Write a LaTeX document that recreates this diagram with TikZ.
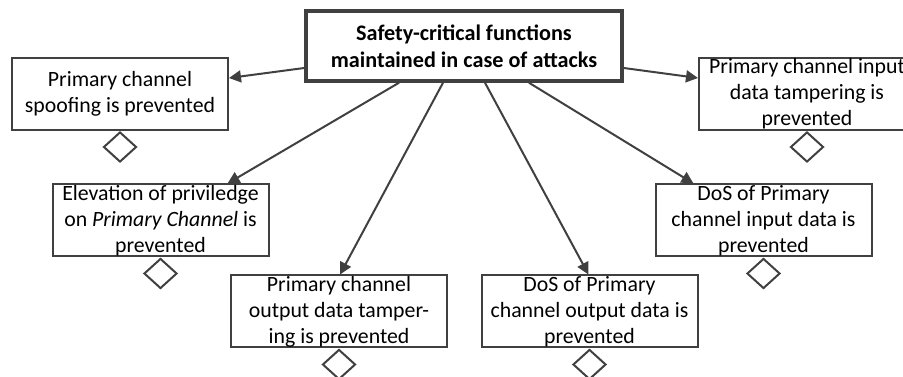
\documentclass[tikz,border=0pt]{standalone}
\usepackage{fontspec}
\setmainfont{Carlito}
\usepackage{xcolor}
\usepackage{tikz}
\usetikzlibrary{shapes.geometric, positioning, arrows.meta}

\definecolor{linegray}{HTML}{404040}

\begin{document}
\begin{tikzpicture}[x=1pt, y=1pt,
    goal/.style={draw=linegray, line width=2pt, minimum width=216pt, minimum height=72pt, inner sep=0pt},
    topgoal/.style={draw=linegray, line width=3.5pt, minimum width=316pt, minimum height=70pt, inner sep=0pt, align=center, font=\fontsize{22.2}{27}\selectfont\bfseries},
    goaltext/.style={align=center, inner sep=0pt, font=\fontsize{21.8}{26}\selectfont},
    solved/.style={diamond, draw=linegray, line width=2pt, minimum width=33pt, minimum height=30pt, inner sep=0pt, anchor=north},
    link/.style={-{Triangle[length=12pt, width=12pt]}, draw=linegray, line width=2pt}]

    \useasboundingbox (0,0) rectangle (903,377);

    % ==========================================
    % TOP GOAL
    % ==========================================
    \node[topgoal] (top) at (464, 331) {Safety-critical functions\\maintained in case of attacks};

    % ==========================================
    % SUB-GOALS (boxes, texts, diamonds)
    % ==========================================
    \node[goal] (spoof) at (120, 283) {};
    \node[goaltext] (spoof-t) at (spoof) {Primary channel\\spoofing is prevented};
    \node[solved] (spoof-d) at (spoof.south) {};

    \node[goal] (intamp) at (807, 283) {};
    \node[goaltext] (intamp-t) at (intamp) {Primary channel input\\data tampering is\\prevented};
    \node[solved] (intamp-d) at (intamp.south) {};

    \node[goal] (elev) at (160.5, 156.5) {};
    \node[goaltext] (elev-t) at (elev) {Elevation of priviledge\\on \textit{Primary Channel} is\\prevented};
    \node[solved] (elev-d) at (elev.south) {};

    \node[goal] (dosin) at (763.5, 156.5) {};
    \node[goaltext] (dosin-t) at (dosin) {DoS of Primary\\channel input data is\\prevented};
    \node[solved] (dosin-d) at (dosin.south) {};

    \node[goal] (outtamp) at (339, 65.5) {};
    \node[goaltext] (outtamp-t) at (outtamp) {Primary channel\\output data tamper-\\ing is prevented};
    \node[solved] (outtamp-d) at (outtamp.south) {};

    \node[goal] (dosout) at (589.5, 65.5) {};
    \node[goaltext] (dosout-t) at (dosout) {DoS of Primary\\channel output data is\\prevented};
    \node[solved] (dosout-d) at (dosout.south) {};

    % ==========================================
    % LINKS from top goal
    % ==========================================
    \draw[link] ([yshift=-22pt]top.west) -- ([yshift=16pt]spoof.east);
    \draw[link] ([yshift=-22pt]top.east) -- ([yshift=16pt]intamp.west);
    \draw[link] ([xshift=-65pt]top.south) -- ([xshift=67pt]elev.north);
    \draw[link] ([xshift=-21pt]top.south) -- ([xshift=1pt]outtamp.north);
    \draw[link] ([xshift=21pt]top.south) -- ([xshift=-1pt]dosout.north);
    \draw[link] ([xshift=65pt]top.south) -- ([xshift=-70pt]dosin.north);

\end{tikzpicture}
\end{document}
